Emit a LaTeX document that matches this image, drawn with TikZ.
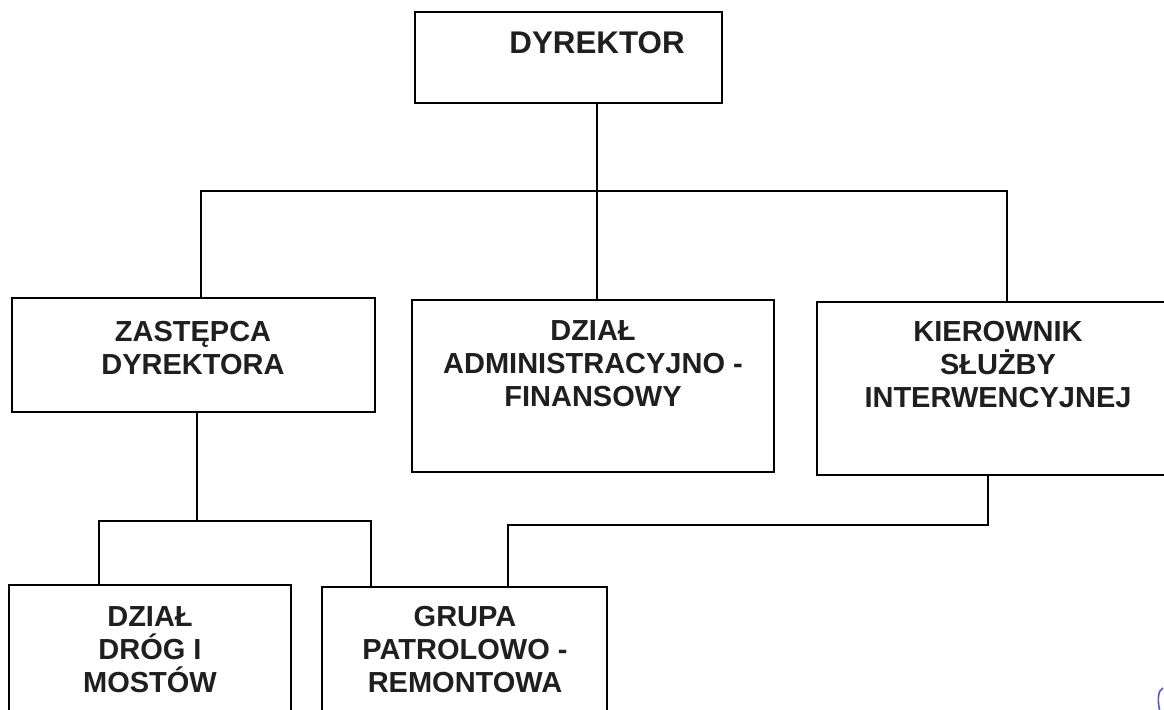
\documentclass[tikz,border=0pt]{standalone}
\usepackage{fontspec}
\setmainfont{Liberation Sans}
\usetikzlibrary{fit}
\definecolor{inkblue}{RGB}{95,85,200}
\begin{document}
\begin{tikzpicture}[x=0.75pt,y=-0.75pt,
  box/.style={draw=black, line width=1.5pt, rectangle, inner sep=0pt},
  lbl/.style={font=\fontsize{21.75pt}{24.75pt}\selectfont\bfseries, align=center, inner sep=0pt, text=black!88},
  toplbl/.style={font=\fontsize{23.5pt}{26pt}\selectfont\bfseries, align=center, inner sep=0pt, text=black!88},
  conn/.style={draw=black, line width=1.5pt, line join=miter}]
\useasboundingbox (0,0) rectangle (1164,710);
\clip (0,0) rectangle (1164,710);
\fill[white] (0,0) rectangle (1164,710);

% boxes
\node[box, fit={(415,12) (722,103)}] (dyr) {};
\node[box, fit={(12,298) (375,412)}] (zas) {};
\node[box, fit={(412,300) (774,472)}] (adm) {};
\node[box, fit={(817,302) (1175,475)}] (kie) {};
\node[box, fit={(9,585) (291,730)}] (drog) {};
\node[box, fit={(322,587) (607,730)}] (grupa) {};

% texts
\node[toplbl] (dyrtxt) at (597,42.5) {DYREKTOR};
\node[lbl] (zastxt) at (193,348.5) {ZASTĘPCA\\DYREKTORA};
\node[lbl] (admtxt) at (593,364) {DZIAŁ\\ADMINISTRACYJNO -\\FINANSOWY};
\node[lbl] (kietxt) at (998,365) {KIEROWNIK\\SŁUŻBY\\INTERWENCYJNEJ};
\node[lbl] (drogtxt) at (150,650) {DZIAŁ\\DRÓG I\\MOSTÓW};
\node[lbl] (grupatxt) at (465,650) {GRUPA\\PATROLOWO -\\REMONTOWA};

% junctions
\coordinate (tL) at (201,191);
\coordinate (tM) at (597,191);
\coordinate (tR) at (1007,191);
\coordinate (zM) at (197,521);
\coordinate (zL) at (99,521);
\coordinate (zR) at (371,521);
\coordinate (kA) at (988,525);
\coordinate (kB) at (508,525);

% connectors
\draw[conn] (tM |- dyr.south) -- (tM |- adm.north);
\draw[conn] (tL |- zas.north) -- (tL) -- (tR) -- (tR |- kie.north);
\draw[conn] (zM |- zas.south) -- (zM);
\draw[conn] (zL |- drog.north) -- (zL) -- (zR) -- (zR |- grupa.north);
\draw[conn] (kA |- kie.south) -- (kA) -- (kB) -- (kB |- grupa.north);

% scan mark
\draw[inkblue, line width=1.2pt] (1163,688) .. controls (1158,690) and (1157,700) .. (1160,712);
\end{tikzpicture}
\end{document}
